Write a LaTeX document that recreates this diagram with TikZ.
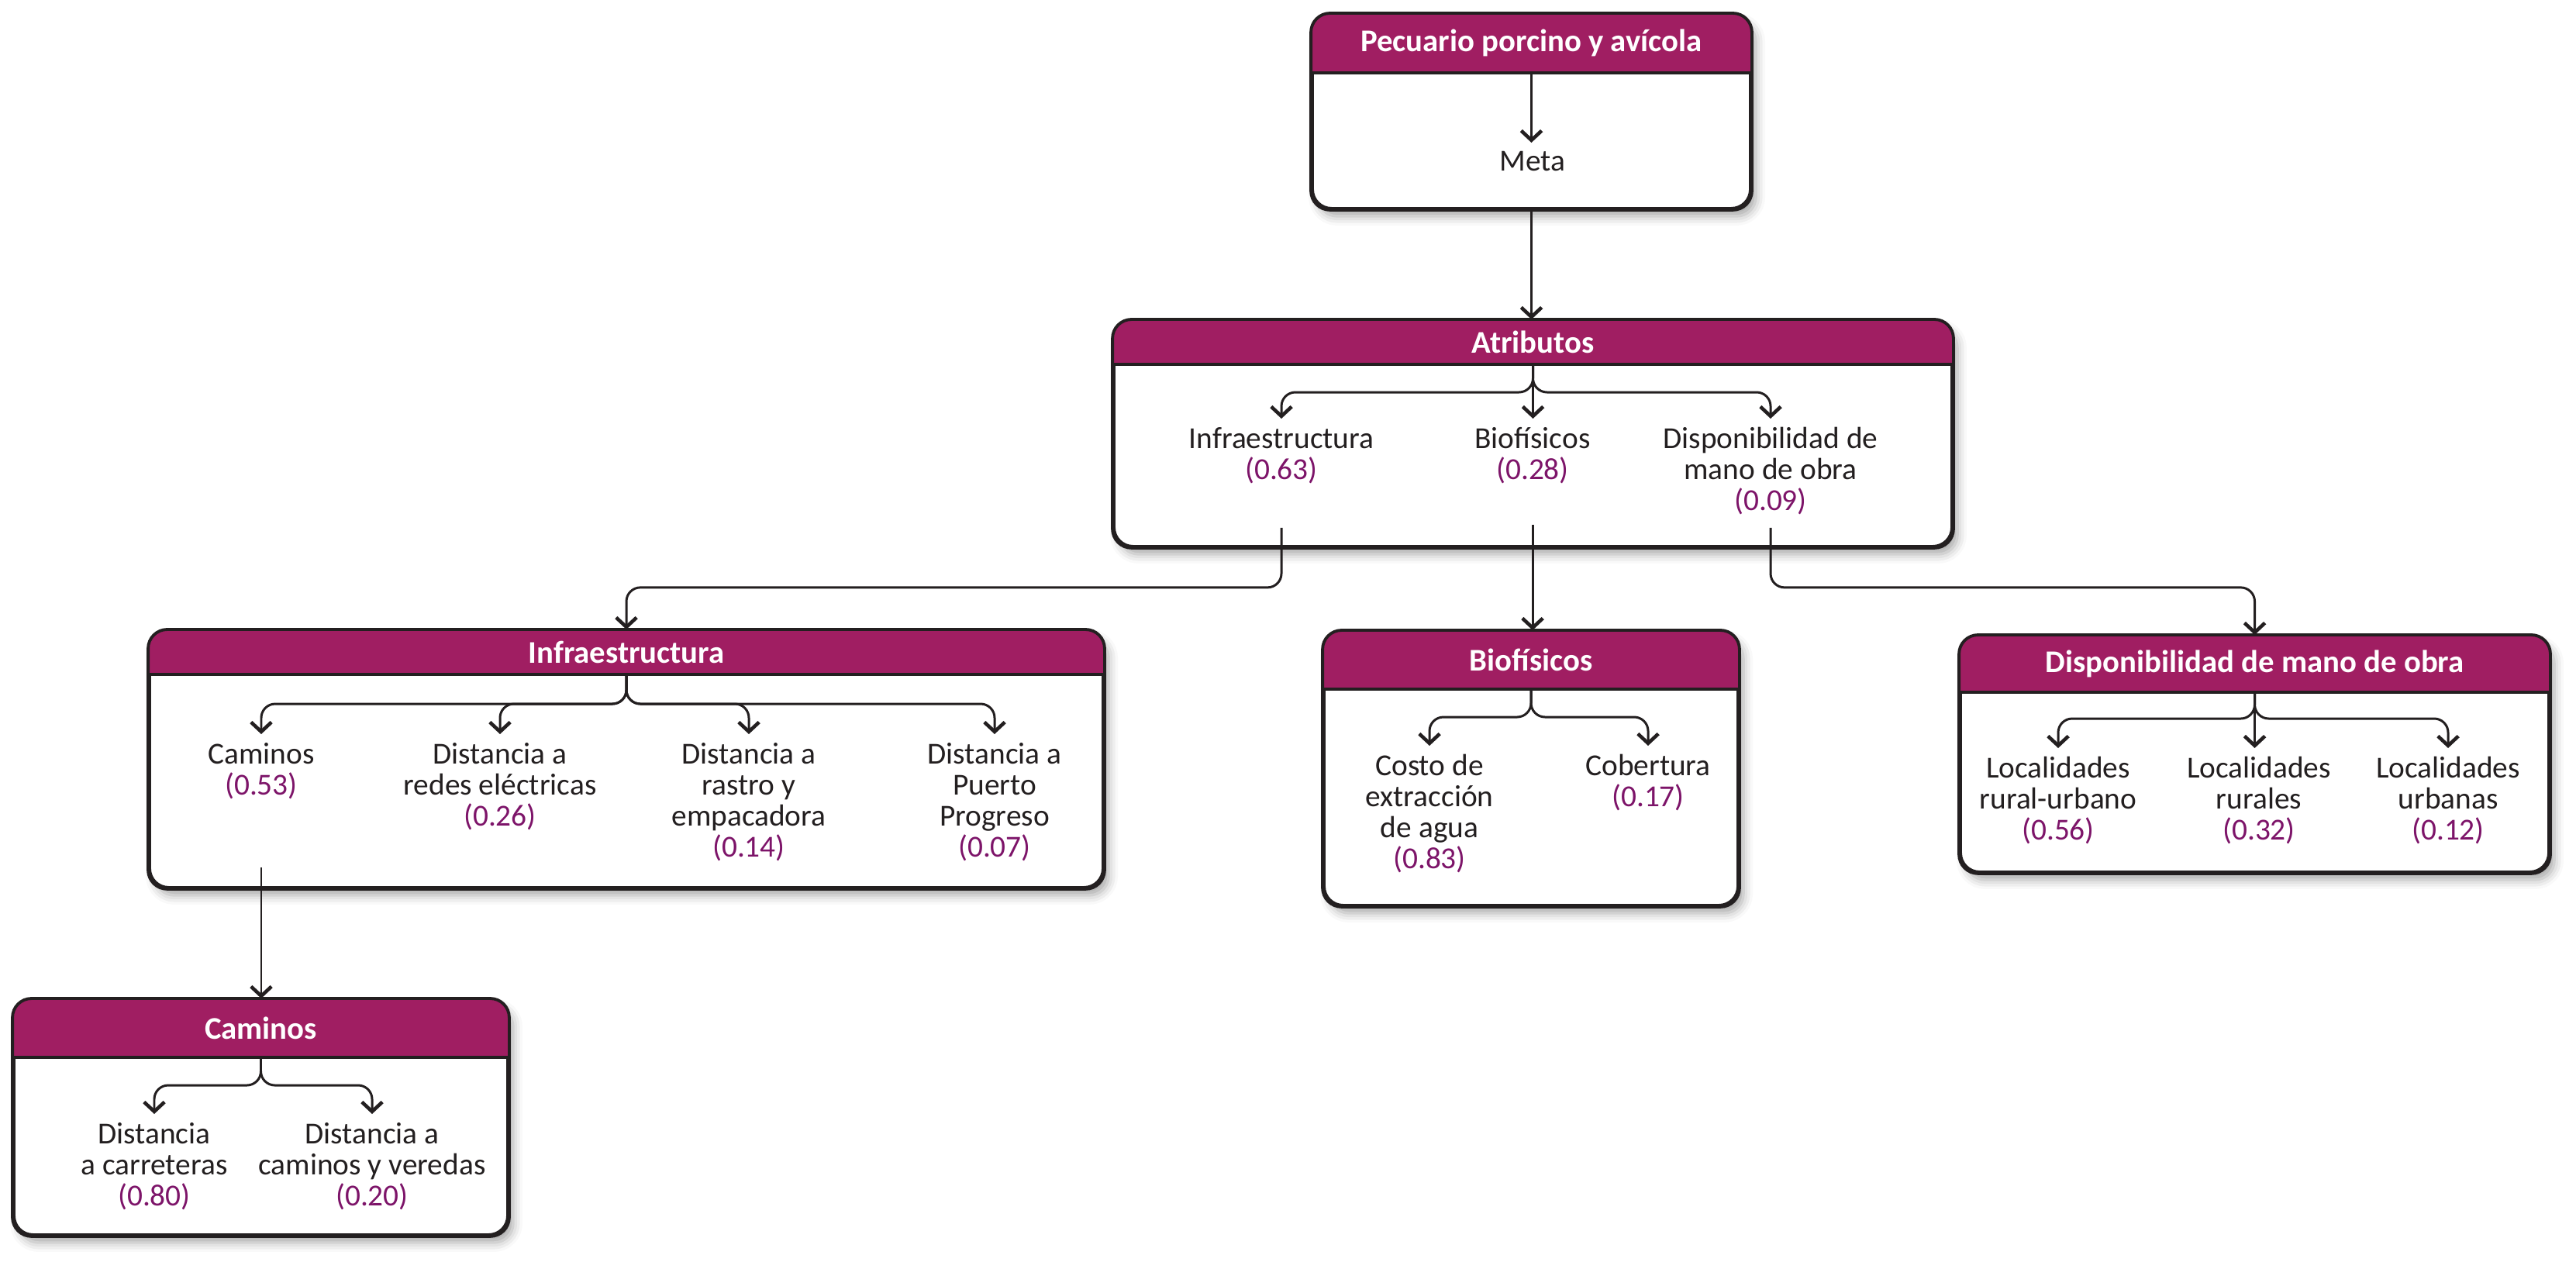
\documentclass[tikz,border=0pt]{standalone}
\usepackage{fontspec}
\setmainfont{Carlito}
\usepackage{tikz}
\usetikzlibrary{arrows.meta, positioning, calc, shadows.blur}
\definecolor{plum1}{RGB}{160, 30, 98}
\definecolor{plum2}{RGB}{125, 20, 105}
\definecolor{ink1}{RGB}{35, 31, 32}
\newcommand\wt[1]{\textcolor{plum2}{(#1)}}
% panel: name, x centre, y top, width, height, header height, title
\newcommand\panel[7]{%
  \node[panel, minimum width=#4cm, minimum height=#5cm, anchor=north] (#1) at (#2,#3) {};
  \begin{scope}
    \clip[rounded corners=7pt] (#1.south west) rectangle (#1.north east);
    \fill[plum1] (#1.north west) rectangle ([yshift=-#6cm]#1.north east);
  \end{scope}
  \draw[ink1, line width=1.1pt] ([yshift=-#6cm]#1.north west) -- ([yshift=-#6cm]#1.north east);
  \draw[ink1, line width=1.1pt, rounded corners=7pt] (#1.south west) rectangle (#1.north east);
  \coordinate (#1-h) at ([yshift=-#6cm]#1.north);
  \node[hdtext] (#1-t) at ([yshift=-0.5*#6cm]#1.north) {#7};
}

\begin{document}
\begin{tikzpicture}[
  panel/.style={draw=ink1, line width=1.1pt, fill=white, rounded corners=7pt, inner sep=0pt,
    blur shadow={shadow xshift=0.07cm, shadow yshift=-0.1cm, shadow blur radius=0.12cm, shadow opacity=35}},
  hdtext/.style={text=white, font=\bfseries\fontsize{11.6}{13}\selectfont, inner sep=0pt},
  item/.style={align=center, text=ink1, font=\fontsize{11.2}{11.4}\selectfont, inner sep=3pt, anchor=north},
  link/.style={draw=ink1, line width=0.85pt, rounded corners=0.18cm,
    -{Straight Barb[length=3.5pt, width=7.5pt, line width=1.3pt]}}
  ]
  \useasboundingbox (0,0) rectangle (33.23,-16.27);

  % boxes
  \panel{goal}{19.755}{-0.17}{5.65}{2.50}{0.77}{Pecuario porcino y avícola}
  \panel{atr}{19.775}{-4.12}{10.81}{2.91}{0.58}{Atributos}
  \panel{inf}{8.08}{-8.12}{12.30}{3.31}{0.58}{Infraestructura}
  \panel{bio}{19.75}{-8.13}{5.34}{3.53}{0.76}{Biofísicos}
  \panel{mo}{29.085}{-8.19}{7.59}{3.04}{0.74}{Disponibilidad de mano de obra}
  \panel{cam}{3.365}{-12.88}{6.37}{3.03}{0.76}{Caminos}

  % contents
  \node[item] (meta) at (19.77,-1.84) {Meta};

  \node[item] (atr-inf) at (16.53,-5.40) {Infraestructura\\\wt{0.63}};
  \node[item] (atr-bio) at (19.77,-5.40) {Biofísicos\\\wt{0.28}};
  \node[item] (atr-mo) at (22.84,-5.40) {Disponibilidad de\\mano de obra\\\wt{0.09}};

  \node[item] (inf-cam) at (3.37,-9.47) {Caminos\\\wt{0.53}};
  \node[item] (inf-red) at (6.45,-9.47) {Distancia a\\redes eléctricas\\\wt{0.26}};
  \node[item] (inf-ras) at (9.66,-9.47) {Distancia a\\rastro y\\empacadora\\\wt{0.14}};
  \node[item] (inf-pue) at (12.83,-9.47) {Distancia a\\Puerto\\Progreso\\\wt{0.07}};

  \node[item] (bio-agu) at (18.44,-9.62) {Costo de\\extracción\\de agua\\\wt{0.83}};
  \node[item] (bio-cob) at (21.26,-9.62) {Cobertura\\\wt{0.17}};

  \node[item] (mo-ru) at (26.55,-9.65) {Localidades\\rural-urbano\\\wt{0.56}};
  \node[item] (mo-rur) at (29.14,-9.65) {Localidades\\rurales\\\wt{0.32}};
  \node[item] (mo-urb) at (31.58,-9.65) {Localidades\\urbanas\\\wt{0.12}};

  \node[item] (cam-car) at (1.99,-14.37) {Distancia\\a carreteras\\\wt{0.80}};
  \node[item] (cam-ver) at (4.80,-14.37) {Distancia a\\caminos y veredas\\\wt{0.20}};

  % arrows inside the boxes
  \draw[link] (goal-h) -- (goal-h |- meta.north);
  \draw[link] (atr-h) -- ++(0,-0.36) -| (atr-inf.north);
  \draw[link] (atr-h) -- (atr-h |- atr-bio.north);
  \draw[link] (atr-h) -- ++(0,-0.36) -| (atr-mo.north);
  \foreach \k in {cam, red, ras, pue}
    \draw[link] (inf-h) -- ++(0,-0.38) -| (inf-\k.north);
  \foreach \k in {agu, cob}
    \draw[link] (bio-h) -- ++(0,-0.36) -| (bio-\k.north);
  \draw[link] (mo-h) -- ++(0,-0.34) -| (mo-ru.north);
  \draw[link] (mo-h) -- (mo-h |- mo-rur.north);
  \draw[link] (mo-h) -- ++(0,-0.34) -| (mo-urb.north);
  \foreach \k in {car, ver}
    \draw[link] (cam-h) -- ++(0,-0.36) -| (cam-\k.north);

  % arrows between the boxes
  \draw[link] (goal.south) -- (goal.south |- atr.north);
  \draw[link] ($(atr.south -| atr-inf)+(0,0.26)$) -- ++(0,-0.77) -| (inf.north);
  \draw[link] ($(atr.south -| atr-bio)+(0,0.30)$) -- (atr-bio |- bio.north);
  \draw[link] ($(atr.south -| atr-mo)+(0,0.26)$) -- ++(0,-0.77) -| (mo.north);
  \draw[link] ($(inf.south -| inf-cam)+(0,0.28)$) -- (inf-cam |- cam.north);
\end{tikzpicture}
\end{document}
